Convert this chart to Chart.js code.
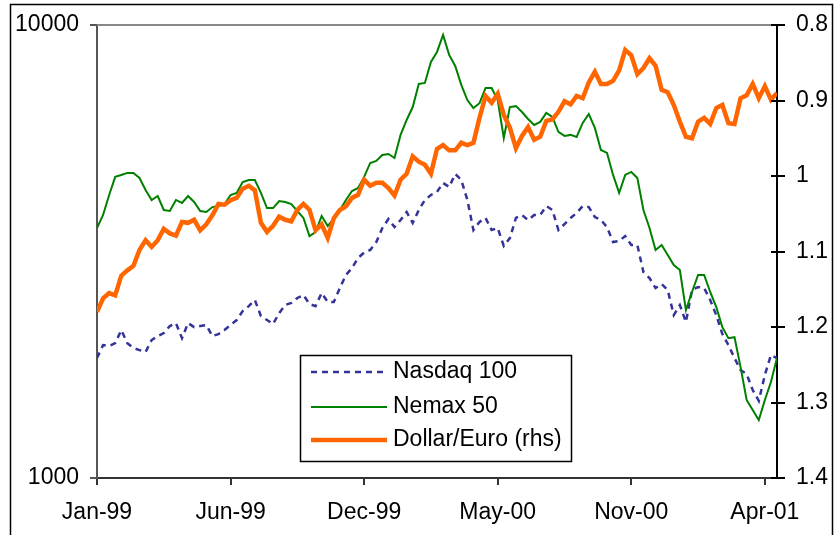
<!DOCTYPE html>
<html>
<head>
<meta charset="utf-8">
<title>Nasdaq 100, Nemax 50 and Dollar/Euro</title>
<script src="https://cdn.jsdelivr.net/npm/chart.js@4.4.1/dist/chart.umd.min.js"></script>
<style>
  html, body { margin: 0; padding: 0; background: #fff; }
  #wrap { width: 834px; height: 535px; }
</style>
</head>
<body>
<div id="wrap"><canvas id="marketChart" width="834" height="535"></canvas></div>
<script>
// ===================================
// DATA (weekly, Jan-99 .. Apr-01)
// ===================================
const nasdaq100 = [
    1840, 1965, 1955, 1985, 2121, 1985, 1936, 1916, 1897, 2016,
    2057, 2089, 2165, 2198, 2036, 2198, 2153, 2165, 2176, 2057,
    2078, 2121, 2176, 2232, 2336, 2396, 2471, 2277, 2232, 2187,
    2312, 2409, 2434, 2497, 2535, 2421, 2396, 2561, 2446, 2446,
    2626, 2806, 2908, 3059, 3146, 3186, 3318, 3563, 3730, 3580,
    3711, 3866, 3655, 3905, 4109, 4215, 4280, 4480, 4390, 4690,
    4549, 4109, 3527, 3674, 3750, 3527, 3563, 3252, 3386, 3750,
    3807, 3711, 3807, 3807, 3984, 3905, 3527, 3636, 3750, 3846,
    3984, 3963, 3768, 3711, 3580, 3318, 3335, 3420, 3268, 3268,
    2849, 2762, 2626, 2680, 2600, 2289, 2409, 2210, 2600, 2640,
    2626, 2471, 2289, 2078, 1965, 1840, 1731, 1696, 1564, 1480,
    1688, 1868, 1840
];

const nemax50 = [
    3563, 3807, 4215, 4620, 4667, 4715, 4715, 4596, 4323, 4109,
    4193, 3905, 3885, 4109, 4046, 4193, 4067, 3885, 3866, 3963,
    3984, 4025, 4215, 4260, 4503, 4549, 4549, 4260, 3944, 3944,
    4088, 4067, 4025, 3885, 3750, 3420, 3490, 3788, 3600, 3730,
    3905, 4109, 4301, 4367, 4620, 4960, 5010, 5165, 5192, 5087,
    5720, 6171, 6590, 7413, 7450, 8285, 8720, 9504, 8590, 8120,
    7375, 6830, 6557, 6720, 7260, 7260, 6830, 5632, 6590, 6620,
    6426, 6203, 6017, 6110, 6395, 6267, 5808, 5690, 5720, 5660,
    6080, 6360, 5927, 5299, 5218, 4667, 4260, 4667, 4738, 4596,
    3905, 3563, 3186, 3268, 3106, 2952, 2878, 2348, 2574, 2806,
    2806, 2574, 2384, 2153, 2036, 2046, 1757, 1487, 1413, 1343,
    1487, 1629, 1840
];

const dollarEuro = [
    1.180, 1.162, 1.155, 1.158, 1.132, 1.125, 1.119, 1.098, 1.085, 1.094,
    1.085, 1.070, 1.076, 1.079, 1.061, 1.062, 1.058, 1.072, 1.064, 1.052,
    1.037, 1.038, 1.032, 1.029, 1.017, 1.013, 1.019, 1.062, 1.074, 1.066,
    1.054, 1.058, 1.060, 1.045, 1.037, 1.045, 1.072, 1.064, 1.082, 1.056,
    1.045, 1.040, 1.029, 1.025, 1.005, 1.013, 1.009, 1.009, 1.016, 1.026,
    1.005, 0.997, 0.974, 0.981, 0.985, 0.997, 0.964, 0.959, 0.966, 0.966,
    0.956, 0.959, 0.956, 0.923, 0.894, 0.903, 0.891, 0.919, 0.936, 0.963,
    0.947, 0.935, 0.952, 0.948, 0.927, 0.925, 0.915, 0.901, 0.905, 0.894,
    0.897, 0.876, 0.862, 0.878, 0.878, 0.874, 0.860, 0.833, 0.840, 0.865,
    0.857, 0.844, 0.854, 0.886, 0.889, 0.906, 0.928, 0.948, 0.950, 0.928,
    0.923, 0.931, 0.910, 0.906, 0.930, 0.931, 0.897, 0.893, 0.878, 0.897,
    0.881, 0.899, 0.890
];

const xTickWeeks = [0, 22, 44, 66, 88, 110];
const xTickLabels = ['Jan-99', 'Jun-99', 'Dec-99', 'May-00', 'Nov-00', 'Apr-01'];
const leftTicks = [1000, 10000];
const rightTicks = [0.8, 0.9, 1, 1.1, 1.2, 1.3, 1.4];

const weeks = nemax50.map((_, i) => i);

// ===================================
// PLUGINS
// ===================================

// outer frame, top edge of plot and inner half of the rhs tick marks
const frame = {
    id: 'frame',
    afterDraw(chart) {
        const { ctx, chartArea } = chart;
        ctx.save();
        ctx.strokeStyle = '#000';
        ctx.lineWidth = 1.5;
        ctx.strokeRect(10.5, 4.5, 822, 600);

        ctx.strokeStyle = '#888';
        ctx.lineWidth = 2;
        ctx.beginPath();
        ctx.moveTo(chartArea.left, chartArea.top);
        ctx.lineTo(chartArea.right, chartArea.top);
        ctx.stroke();

        const rhs = chart.scales.y1;
        ctx.strokeStyle = '#000';
        rhs.ticks.forEach(t => {
            const py = Math.round(rhs.getPixelForValue(t.value));
            ctx.beginPath();
            ctx.moveTo(chartArea.right - 6, py);
            ctx.lineTo(chartArea.right, py);
            ctx.stroke();
        });
        ctx.restore();
    }
};

// boxed legend inside the plot
const boxLegend = {
    id: 'boxLegend',
    afterDraw(chart) {
        const ctx = chart.ctx;
        const bx = 300, by = 355, bw = 271, bh = 106;
        const rows = [372, 407, 440];
        ctx.save();
        ctx.fillStyle = '#fff';
        ctx.fillRect(bx, by, bw, bh);
        ctx.strokeStyle = '#000';
        ctx.lineWidth = 1.5;
        ctx.strokeRect(bx + 0.5, by + 0.5, bw, bh);

        chart.data.datasets.forEach((ds, i) => {
            const y = rows[i];
            ctx.strokeStyle = ds.borderColor;
            ctx.lineWidth = ds.borderWidth;
            ctx.setLineDash(ds.borderDash || []);
            ctx.beginPath();
            ctx.moveTo(311, y);
            ctx.lineTo(387, y);
            ctx.stroke();
            ctx.setLineDash([]);
            ctx.fillStyle = '#000';
            ctx.font = '23px Arial, "Liberation Sans", sans-serif';
            ctx.textBaseline = 'middle';
            ctx.fillText(ds.label, 393, y);
        });
        ctx.restore();
    }
};

// ===================================
// CHART
// ===================================
Chart.defaults.font.family = 'Arial, "Liberation Sans", sans-serif';
Chart.defaults.font.size = 23;
Chart.defaults.color = '#000';

const ctx = document.getElementById('marketChart');

new Chart(ctx, {
    type: 'line',
    data: {
        labels: weeks,
        datasets: [
            {
                label: 'Nasdaq 100',
                data: nasdaq100,
                yAxisID: 'y',
                borderColor: '#333399',
                borderWidth: 2.5,
                borderDash: [6, 5],
                order: 2
            },
            {
                label: 'Nemax 50',
                data: nemax50,
                yAxisID: 'y',
                borderColor: '#008000',
                borderWidth: 2,
                order: 1
            },
            {
                label: 'Dollar/Euro (rhs)',
                data: dollarEuro,
                yAxisID: 'y1',
                borderColor: '#FF6600',
                borderWidth: 4.5,
                order: 0
            }
        ]
    },
    options: {
        responsive: false,
        animation: false,
        layout: { padding: { top: 25, left: 0, right: 0, bottom: 0 } },
        elements: {
            point: { radius: 0 },
            line: { tension: 0, fill: false }
        },
        plugins: {
            legend: { display: false },
            tooltip: { enabled: false }
        },
        scales: {
            x: {
                type: 'linear',
                min: 0,
                max: weeks.length - 1,
                afterBuildTicks: s => { s.ticks = xTickWeeks.map(v => ({ value: v })); },
                afterFit: s => { s.height = 57; },
                ticks: {
                    autoSkip: false,
                    maxRotation: 0,
                    padding: 14,
                    callback: v => xTickLabels[xTickWeeks.indexOf(v)]
                },
                grid: { drawOnChartArea: false, tickLength: 7, color: '#333', lineWidth: 2 },
                border: { color: '#333', width: 2 }
            },
            y: {
                type: 'logarithmic',
                position: 'left',
                min: 1000,
                max: 10000,
                afterBuildTicks: s => { s.ticks = leftTicks.map(v => ({ value: v })); },
                afterFit: s => { s.width = 97; },
                ticks: { padding: 11, callback: v => String(v) },
                grid: { drawOnChartArea: false, tickLength: 7, color: '#555', lineWidth: 2 },
                border: { color: '#555', width: 2 }
            },
            y1: {
                type: 'linear',
                position: 'right',
                reverse: true,
                min: 0.8,
                max: 1.4,
                afterBuildTicks: s => { s.ticks = rightTicks.map(v => ({ value: v })); },
                afterFit: s => { s.width = 57; },
                ticks: { padding: 11, callback: v => String(+v.toFixed(1)) },
                grid: { drawOnChartArea: false, tickLength: 8, color: '#000', lineWidth: 2 },
                border: { color: '#000', width: 2 }
            }
        }
    },
    plugins: [frame, boxLegend]
});
</script>
</body>
</html>
